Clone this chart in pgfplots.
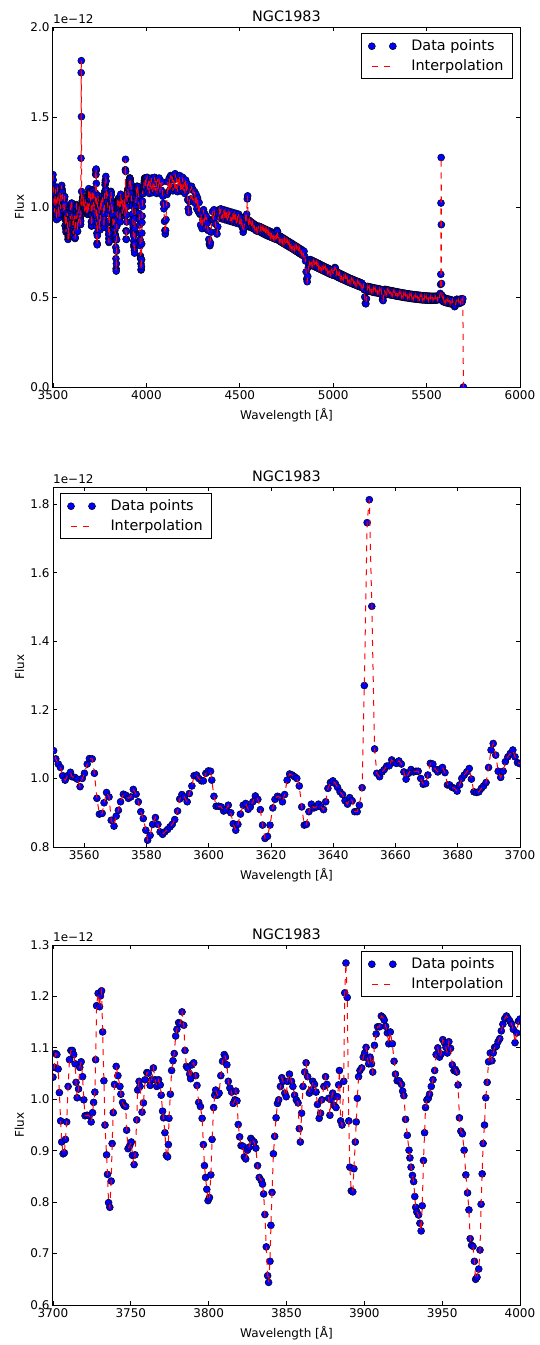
\documentclass[border=0pt]{standalone}
\usepackage{pgfplots}
\pgfplotsset{compat=1.18}
\usepackage{pgfplotstable}
\usepackage{fontspec}
\setmainfont{DejaVu Sans}

% spectrum of NGC1983, flux in units of 1e-12
\pgfplotstableread{
lam flux
3500.0 1.180
3501.2 1.150
3502.4 1.120
3503.6 1.090
3504.8 1.050
3506.0 1.020
3507.2 0.990
3508.4 0.970
3509.6 1.000
3510.8 1.040
3512.0 1.080
3513.2 1.100
3514.4 1.070
3515.6 1.030
3516.8 0.980
3518.0 0.950
3519.2 0.930
3520.4 0.960
3521.6 1.010
3522.8 1.050
3524.0 1.090
3525.2 1.110
3526.4 1.080
3527.6 1.040
3528.8 1.000
3530.0 0.970
3531.2 0.940
3532.4 0.960
3533.6 1.000
3534.8 1.030
3536.0 1.060
3537.2 1.080
3538.4 1.050
3539.6 1.020
3540.8 0.990
3542.0 1.010
3543.2 1.040
3544.4 1.070
3545.6 1.100
3546.8 1.120
3548.0 1.100
3549.2 1.090
3550.2 1.081
3550.9 1.057
3551.7 1.042
3552.4 1.032
3553.1 1.008
3553.9 0.995
3554.7 1.008
3555.6 1.018
3556.1 1.005
3557.0 1.003
3557.8 0.998
3558.7 0.976
3559.4 1.000
3560.1 1.015
3561.0 1.042
3561.7 1.058
3562.6 1.057
3563.3 1.015
3564.1 0.942
3564.9 0.896
3565.8 0.898
3566.4 0.929
3567.2 0.959
3568.0 0.946
3568.7 0.878
3569.6 0.861
3570.3 0.890
3571.0 0.907
3571.7 0.932
3572.6 0.954
3573.4 0.951
3574.2 0.942
3575.0 0.946
3575.8 0.968
3576.7 0.954
3577.4 0.932
3578.2 0.903
3579.0 0.883
3579.8 0.849
3580.4 0.820
3581.2 0.834
3582.0 0.866
3582.9 0.886
3583.7 0.866
3584.4 0.844
3585.2 0.837
3585.9 0.844
3586.8 0.851
3587.6 0.859
3588.3 0.866
3589.1 0.880
3590.0 0.905
3590.7 0.940
3591.4 0.953
3592.2 0.946
3593.1 0.932
3593.8 0.956
3594.6 0.978
3595.3 1.008
3596.1 1.010
3596.8 1.000
3597.7 0.993
3598.3 0.993
3599.1 1.015
3599.9 1.022
3600.6 1.021
3601.0 0.995
3601.7 0.948
3602.4 0.919
3603.2 0.919
3604.0 0.917
3604.8 0.905
3605.6 0.909
3606.3 0.922
3607.1 0.900
3607.9 0.868
3608.7 0.849
3609.4 0.866
3610.2 0.896
3611.1 0.922
3611.9 0.927
3612.7 0.910
3613.4 0.917
3614.2 0.932
3615.0 0.949
3615.8 0.939
3616.6 0.909
3617.3 0.864
3618.1 0.825
3618.9 0.831
3619.7 0.864
3620.6 0.914
3621.3 0.939
3622.1 0.948
3622.9 0.945
3623.7 0.932
3624.4 0.953
3625.2 0.995
3626.0 1.013
3626.8 1.010
3627.6 1.005
3628.3 1.000
3629.1 0.978
3629.9 0.917
3630.7 0.864
3631.4 0.866
3632.2 0.903
3633.0 0.925
3633.8 0.914
3634.6 0.917
3635.3 0.925
3636.1 0.917
3636.9 0.909
3637.6 0.932
3638.3 0.971
3639.1 0.988
3639.9 0.993
3640.7 0.985
3641.4 0.974
3642.2 0.961
3643.0 0.953
3643.8 0.935
3644.6 0.925
3645.3 0.944
3646.1 0.935
3646.9 0.903
3647.7 0.903
3648.4 0.922
3649.3 0.973
3650.0 1.271
3650.9 1.746
3651.6 1.813
3652.4 1.502
3653.3 1.086
3654.0 1.015
3654.9 1.005
3655.7 1.019
3656.4 1.026
3657.2 1.036
3658.0 1.037
3658.8 1.054
3659.6 1.047
3660.3 1.044
3661.1 1.051
3661.9 1.042
3662.7 1.019
3663.4 0.998
3664.2 1.015
3665.0 1.026
3665.8 1.019
3666.6 1.021
3667.3 1.021
3668.1 1.000
3668.9 0.983
3669.7 0.985
3670.4 1.010
3671.2 1.044
3672.0 1.042
3672.8 1.027
3673.6 1.019
3674.3 1.027
3675.1 1.032
3675.9 1.017
3676.7 0.981
3677.4 0.981
3678.2 0.974
3679.0 0.971
3679.8 0.963
3680.6 0.981
3681.3 1.000
3682.1 1.010
3682.9 1.019
3683.7 1.029
3684.4 0.998
3685.2 0.961
3686.0 0.959
3686.8 0.961
3687.6 0.971
3688.3 0.978
3689.1 0.988
3689.9 1.032
3690.7 1.083
3691.4 1.102
3692.2 1.068
3693.0 1.021
3693.8 1.003
3694.6 1.021
3695.3 1.049
3696.1 1.063
3696.9 1.073
3697.7 1.083
3698.4 1.063
3699.2 1.046
3700.0 1.043
3700.8 1.062
3701.6 1.089
3702.5 1.087
3703.3 1.059
3704.1 1.013
3704.9 0.958
3705.6 0.917
3706.5 0.894
3707.3 0.896
3708.0 0.922
3708.8 0.956
3709.7 1.025
3710.6 1.077
3711.5 1.095
3712.4 1.095
3713.3 1.087
3714.2 1.069
3714.8 1.033
3715.5 1.003
3716.4 1.020
3717.2 1.062
3718.1 1.073
3719.0 1.044
3719.8 0.999
3720.6 0.968
3721.9 0.969
3723.2 0.968
3724.5 0.956
3725.4 0.974
3726.1 0.994
3726.9 1.014
3727.4 1.077
3728.0 1.182
3729.0 1.206
3729.9 1.180
3730.5 1.201
3731.2 1.211
3731.9 1.131
3732.7 1.036
3733.4 0.950
3734.4 0.892
3735.0 0.854
3735.7 0.799
3736.5 0.790
3737.4 0.841
3738.0 0.914
3738.7 0.974
3739.5 1.029
3740.6 1.064
3741.7 1.046
3743.0 1.025
3743.6 1.010
3744.7 0.994
3745.6 0.988
3746.7 0.986
3747.3 0.940
3748.2 0.904
3749.3 0.910
3750.3 0.917
3751.0 0.891
3752.1 0.873
3752.7 0.892
3753.8 0.960
3754.4 1.018
3755.3 1.035
3755.9 1.025
3757.2 0.975
3758.1 0.993
3759.2 1.038
3760.3 1.052
3761.3 1.051
3762.4 1.027
3763.4 1.038
3764.5 1.061
3765.6 1.038
3766.7 1.025
3767.8 1.038
3768.9 1.028
3769.5 1.008
3770.4 0.977
3771.0 0.964
3771.9 0.935
3772.8 0.891
3773.6 0.888
3774.1 0.912
3774.5 0.963
3775.4 1.010
3776.2 1.056
3777.1 1.075
3777.9 1.089
3778.8 1.123
3779.6 1.136
3780.7 1.149
3781.8 1.147
3782.9 1.170
3784.0 1.144
3784.8 1.095
3785.7 1.064
3786.5 1.061
3787.8 1.049
3788.4 1.040
3789.3 1.067
3790.4 1.071
3791.7 1.046
3792.5 1.027
3793.6 0.994
3794.7 0.986
3795.8 0.963
3796.6 0.912
3797.3 0.871
3798.0 0.848
3798.8 0.825
3799.6 0.803
3800.5 0.809
3801.4 0.853
3802.2 0.922
3803.2 0.984
3803.9 1.008
3804.5 1.018
3805.6 1.008
3806.7 1.012
3807.8 1.046
3808.9 1.074
3810.0 1.087
3810.8 1.082
3811.7 1.067
3812.6 1.035
3813.6 1.022
3814.7 1.014
3815.8 0.992
3816.9 0.999
3817.5 1.016
3818.2 0.997
3819.0 0.951
3819.9 0.927
3820.8 0.910
3821.9 0.909
3822.9 0.888
3823.8 0.884
3824.9 0.901
3826.0 0.907
3827.1 0.924
3828.1 0.920
3829.2 0.917
3830.3 0.905
3831.4 0.871
3832.5 0.848
3833.8 0.842
3834.6 0.835
3835.3 0.816
3836.1 0.776
3837.0 0.713
3837.9 0.657
3838.5 0.644
3839.4 0.685
3840.0 0.755
3840.7 0.819
3841.6 0.894
3842.4 0.928
3843.3 0.964
3844.2 0.992
3845.0 0.999
3846.1 1.025
3847.0 1.042
3847.8 1.035
3848.9 1.012
3849.8 1.005
3850.6 1.035
3851.9 1.049
3853.2 1.035
3854.1 1.025
3855.2 1.008
3856.3 0.999
3857.4 0.993
3858.2 0.943
3858.9 0.917
3859.7 0.973
3860.6 1.025
3861.7 1.053
3862.6 1.071
3863.6 1.044
3864.7 1.012
3865.8 1.018
3866.9 1.035
3868.0 1.029
3869.0 1.014
3869.9 0.990
3871.0 0.963
3871.9 0.973
3872.7 0.999
3874.0 1.025
3875.1 1.044
3876.0 1.029
3877.1 1.002
3877.9 0.969
3878.6 0.999
3879.7 1.012
3880.7 0.988
3881.8 0.984
3882.7 1.005
3883.5 1.028
3884.0 1.056
3884.8 0.958
3885.7 0.950
3886.8 1.035
3887.4 1.207
3888.2 1.265
3889.0 1.198
3890.0 0.958
3890.7 0.868
3891.6 0.822
3892.6 0.820
3893.3 0.865
3894.2 0.917
3894.8 0.956
3895.5 1.002
3896.3 1.044
3897.2 1.056
3898.3 1.061
3899.3 1.082
3900.2 1.090
3901.1 1.101
3902.0 1.080
3902.8 1.069
3903.7 1.082
3904.6 1.069
3905.4 1.053
3906.5 1.105
3907.6 1.127
3908.5 1.141
3909.8 1.141
3910.9 1.162
3912.0 1.159
3912.8 1.154
3913.7 1.142
3914.8 1.129
3915.7 1.108
3916.7 1.131
3918.0 1.108
3919.1 1.074
3920.0 1.049
3921.1 1.036
3922.4 1.036
3923.9 1.029
3924.6 1.016
3925.4 1.007
3926.5 0.961
3927.6 0.930
3928.7 0.901
3929.3 0.886
3930.0 0.868
3930.9 0.852
3931.7 0.840
3932.4 0.811
3933.0 0.790
3933.7 0.781
3934.8 0.775
3935.7 0.759
3936.5 0.744
3937.2 0.793
3938.0 0.881
3938.7 0.935
3939.3 0.984
3940.2 0.999
3941.1 1.002
3941.9 1.010
3943.0 1.025
3944.1 1.038
3945.2 1.056
3946.1 1.087
3947.2 1.100
3948.3 1.082
3949.3 1.088
3950.4 1.116
3951.5 1.110
3952.4 1.101
3953.3 1.090
3954.3 1.112
3955.4 1.099
3956.5 1.067
3957.6 1.056
3958.5 1.058
3959.3 1.053
3960.2 1.028
3961.1 0.964
3962.0 0.938
3963.0 0.933
3964.1 0.901
3965.2 0.853
3966.3 0.818
3967.2 0.785
3968.0 0.729
3968.9 0.716
3969.8 0.714
3970.7 0.685
3971.5 0.650
3972.4 0.654
3973.5 0.670
3974.3 0.707
3975.0 0.796
3975.7 0.855
3976.3 0.914
3977.2 0.950
3978.0 1.003
3978.9 1.033
3979.8 1.073
3980.9 1.090
3982.0 1.075
3982.8 1.090
3983.7 1.101
3984.8 1.103
3985.9 1.112
3987.0 1.118
3988.0 1.133
3989.0 1.146
3990.2 1.157
3991.3 1.162
3992.4 1.157
3993.5 1.152
3994.6 1.146
3995.7 1.136
3996.8 1.110
3997.9 1.129
3999.0 1.152
4000.0 1.156
4004 1.165
4008 1.089
4012 1.143
4016 1.075
4020 1.156
4024 1.102
4028 1.161
4032 1.080
4036 1.134
4040 1.093
4044 1.165
4048 1.089
4052 1.143
4056 1.075
4060 1.156
4064 1.102
4068 1.161
4072 1.080
4076 1.134
4080 1.093
4084 1.140
4088 1.060
4091 1.020
4094 0.990
4097 0.920
4099 0.870
4101 0.850
4103 0.870
4105 0.930
4108 1.010
4111 1.070
4114 1.140
4118 1.085
4122 1.160
4126 1.095
4130 1.175
4134 1.110
4138 1.170
4142 1.090
4146 1.150
4150 1.100
4154 1.185
4158 1.100
4162 1.160
4166 1.085
4170 1.170
4174 1.110
4178 1.175
4182 1.090
4186 1.145
4190 1.100
4194 1.165
4198 1.085
4202 1.140
4206 1.075
4210 1.150
4214 1.090
4218 1.130
4221 1.040
4224 0.990
4227 0.970
4230 1.030
4234 1.100
4238 1.045
4242 1.115
4246 1.040
4250 1.095
4254 1.030
4258 1.085
4262 1.020
4266 1.070
4270 0.990
4274 1.050
4278 0.975
4282 1.025
4286 0.960
4290 0.900
4294 0.960
4298 0.880
4302 0.930
4306 0.985
4310 0.915
4314 0.960
4318 0.880
4322 0.945
4326 0.910
4330 0.870
4334 0.820
4337 0.795
4340 0.785
4343 0.800
4346 0.860
4350 0.930
4354 0.975
4358 0.930
4362 0.985
4366 0.940
4370 0.905
4374 0.860
4378 0.850
4382 0.890
4386 0.960
4390 0.985
4394 0.945
4398 0.990
4402 0.935
4406 0.975
4410 0.940
4414 0.985
4418 0.930
4422 0.970
4426 0.935
4430 0.980
4434 0.925
4438 0.965
4442 0.930
4446 0.975
4450 0.920
4454 0.960
4458 0.925
4462 0.970
4466 0.915
4470 0.955
4474 0.920
4478 0.965
4482 0.910
4486 0.950
4490 0.915
4494 0.960
4498 0.905
4502 0.945
4506 0.910
4510 0.940
4514 0.885
4518 0.860
4522 0.880
4526 0.925
4530 0.945
4534 0.905
4537 0.960
4540 1.045
4542 1.062
4544 0.930
4548 0.890
4552 0.925
4556 0.890
4560 0.918
4564 0.885
4568 0.912
4572 0.880
4576 0.905
4580 0.876
4584 0.900
4588 0.868
4592 0.895
4596 0.865
4600 0.892
4604 0.893
4608 0.862
4612 0.889
4616 0.857
4620 0.885
4624 0.853
4628 0.881
4632 0.848
4636 0.877
4640 0.844
4644 0.873
4648 0.840
4652 0.869
4656 0.837
4660 0.866
4664 0.833
4668 0.862
4672 0.830
4676 0.858
4680 0.826
4684 0.854
4688 0.822
4692 0.850
4696 0.820
4699 0.870
4702 0.862
4705 0.822
4708 0.842
4712 0.811
4716 0.838
4720 0.806
4724 0.833
4728 0.801
4732 0.828
4736 0.796
4740 0.823
4744 0.791
4748 0.817
4752 0.786
4756 0.812
4760 0.781
4764 0.807
4768 0.776
4772 0.802
4776 0.771
4780 0.797
4784 0.766
4788 0.791
4792 0.760
4796 0.786
4800 0.755
4804 0.781
4808 0.750
4812 0.775
4816 0.744
4820 0.770
4824 0.739
4828 0.765
4832 0.734
4836 0.759
4840 0.729
4844 0.754
4848 0.724
4852 0.700
4855 0.640
4858 0.600
4861 0.585
4864 0.615
4867 0.665
4870 0.705
4874 0.680
4878 0.708
4882 0.678
4886 0.704
4890 0.674
4894 0.700
4898 0.670
4902 0.696
4906 0.666
4910 0.692
4914 0.662
4918 0.688
4922 0.658
4926 0.684
4930 0.654
4934 0.679
4938 0.650
4942 0.675
4946 0.646
4950 0.671
4954 0.642
4958 0.667
4962 0.638
4966 0.663
4970 0.634
4974 0.659
4978 0.630
4982 0.655
4986 0.626
4990 0.651
4994 0.623
4998 0.647
5002 0.620
5006 0.650
5009 0.664
5012 0.660
5015 0.616
5018 0.640
5022 0.611
5026 0.636
5030 0.607
5034 0.632
5038 0.603
5042 0.628
5046 0.599
5050 0.624
5054 0.596
5058 0.620
5062 0.592
5066 0.616
5070 0.588
5074 0.612
5078 0.584
5082 0.608
5086 0.581
5090 0.604
5094 0.577
5098 0.601
5102 0.574
5106 0.597
5110 0.570
5114 0.594
5118 0.567
5122 0.590
5126 0.564
5130 0.587
5134 0.560
5138 0.584
5142 0.557
5146 0.580
5150 0.554
5154 0.577
5158 0.551
5162 0.565
5166 0.540
5169 0.500
5172 0.465
5175 0.462
5178 0.490
5181 0.530
5185 0.559
5189 0.533
5193 0.557
5197 0.531
5201 0.555
5205 0.529
5209 0.553
5213 0.527
5217 0.551
5221 0.525
5225 0.549
5229 0.524
5233 0.548
5237 0.522
5241 0.546
5245 0.521
5249 0.545
5253 0.520
5257 0.540
5261 0.510
5264 0.485
5267 0.480
5270 0.505
5274 0.542
5278 0.518
5282 0.542
5286 0.516
5290 0.540
5294 0.514
5298 0.538
5302 0.513
5306 0.536
5310 0.511
5314 0.535
5318 0.510
5322 0.533
5326 0.508
5330 0.531
5334 0.506
5338 0.530
5342 0.505
5346 0.528
5350 0.503
5354 0.526
5358 0.502
5362 0.525
5366 0.500
5370 0.523
5374 0.499
5378 0.522
5382 0.497
5386 0.520
5390 0.496
5394 0.519
5398 0.495
5402 0.518
5406 0.494
5410 0.516
5414 0.492
5418 0.515
5422 0.491
5426 0.514
5430 0.490
5434 0.513
5438 0.489
5442 0.512
5446 0.488
5450 0.511
5454 0.487
5458 0.510
5462 0.486
5466 0.509
5470 0.485
5474 0.508
5478 0.484
5482 0.507
5486 0.484
5490 0.506
5494 0.483
5498 0.506
5502 0.483
5506 0.505
5510 0.482
5514 0.505
5518 0.482
5522 0.504
5526 0.482
5530 0.504
5534 0.482
5538 0.504
5542 0.482
5546 0.504
5550 0.483
5554 0.505
5558 0.484
5562 0.506
5566 0.486
5570 0.508
5573 0.520
5575 0.570
5576 0.626
5577 1.022
5578 1.275
5579 0.902
5580 0.575
5582 0.510
5586 0.476
5590 0.498
5594 0.472
5598 0.494
5602 0.469
5606 0.491
5610 0.467
5614 0.489
5618 0.465
5622 0.487
5626 0.463
5630 0.485
5634 0.462
5638 0.482
5642 0.458
5646 0.455
5650 0.446
5654 0.452
5658 0.476
5662 0.488
5666 0.466
5670 0.486
5674 0.464
5678 0.487
5682 0.467
5686 0.490
5690 0.472
5694 0.490
5697 0.000
}\spec

\pgfplotsset{
  ngc/.style={
    scale only axis, width=467pt, height=360pt,
    clip marker paths=true,
    axis line style={line width=1pt},
    tick style={line width=0.8pt, black},
    major tick length=4pt, tick align=inside, minor tick num=0,
    title=NGC1983,
    xlabel={Wavelength [Å]}, ylabel={Flux},
    every axis title/.style={at={(axis description cs:0.5,1)}, yshift=6pt,
      anchor=base, font=\fontsize{14.4}{17}\selectfont},
    every axis x label/.style={at={(axis description cs:0.5,0)}, yshift=-32.5pt,
      anchor=base, font=\fontsize{12}{14}\selectfont},
    every axis y label/.style={at={(axis description cs:0,0.5)}, xshift=-29pt,
      rotate=90, anchor=base, font=\fontsize{12}{14}\selectfont},
    tick label style={font=\fontsize{12}{14}\selectfont},
    /pgf/number format/assume math mode=true,
    xticklabel style={/pgf/number format/1000 sep={}},
    yticklabel style={/pgf/number format/.cd, fixed, fixed zerofill, precision=1},
    legend cell align=left,
    legend style={font=\fontsize{14.4}{17}\selectfont, draw=black, line width=1pt,
      inner xsep=7pt, inner ysep=4.5pt, row sep=3.4pt, column sep=13pt,
      nodes={inner sep=2pt}},
    after end axis/.code={
      \node[anchor=base west, inner sep=0pt, font=\fontsize{12}{14}\selectfont]
        at (rel axis cs:0,1) [yshift=4pt] {1e−12};
    },
  },
  pts/.style={only marks, mark=*, mark size=3.5pt,
    mark options={fill=blue, draw=black, line width=0.5pt},
    legend image code/.code={\draw[##1] plot coordinates {(0pt,0pt) (21pt,0pt)};}},
  itp/.style={red, dash pattern=on 6pt off 6pt, line width=1pt, no markers,
    legend image code/.code={\draw[##1, red] (0pt,0pt) -- (21pt,0pt);}},
}

\begin{document}
\begin{tikzpicture}
\path[use as bounding box] (0pt,0pt) rectangle (540pt,-1345pt);

\begin{axis}[ngc, at={(53pt,-387pt)}, anchor=south west,
  xmin=3500, xmax=6000, ymin=0, ymax=2,
  xtick={3500,4000,4500,5000,5500,6000},
  ytick={0,0.5,1.0,1.5,2.0},
  legend style={at={(axis description cs:1,1)}, anchor=north east, xshift=-7pt, yshift=-6pt}]
\addplot[pts] table[x=lam, y=flux] {\spec};
\addlegendentry{Data points}
\addplot[itp] table[x=lam, y=flux] {\spec};
\addlegendentry{Interpolation}
\end{axis}

\begin{axis}[ngc, at={(53pt,-847pt)}, anchor=south west,
  xmin=3550, xmax=3700, ymin=0.8, ymax=1.85,
  xtick={3560,3580,3600,3620,3640,3660,3680,3700},
  ytick={0.8,1.0,1.2,1.4,1.6,1.8},
  legend style={at={(axis description cs:0,1)}, anchor=north west, xshift=7pt, yshift=-6pt}]
\addplot[pts, restrict x to domain=3540:3710] table[x=lam, y=flux] {\spec};
\addlegendentry{Data points}
\addplot[itp, restrict x to domain=3540:3710] table[x=lam, y=flux] {\spec};
\addlegendentry{Interpolation}
\end{axis}

\begin{axis}[ngc, at={(53pt,-1305pt)}, anchor=south west,
  xmin=3700, xmax=4000, ymin=0.6, ymax=1.3,
  xtick={3700,3750,3800,3850,3900,3950,4000},
  ytick={0.6,0.7,0.8,0.9,1.0,1.1,1.2,1.3},
  legend style={at={(axis description cs:1,1)}, anchor=north east, xshift=-7pt, yshift=-6pt}]
\addplot[pts, restrict x to domain=3690:4010] table[x=lam, y=flux] {\spec};
\addlegendentry{Data points}
\addplot[itp, restrict x to domain=3690:4010] table[x=lam, y=flux] {\spec};
\addlegendentry{Interpolation}
\end{axis}
\end{tikzpicture}
\end{document}
